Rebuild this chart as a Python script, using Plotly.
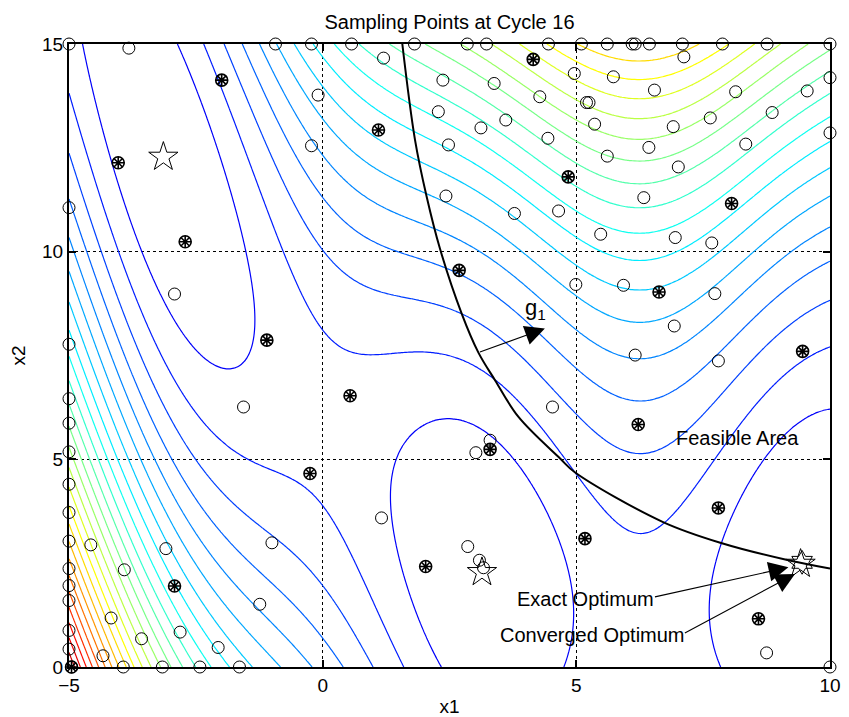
import numpy as np
import plotly.graph_objects as go

# ---------------- data ----------------
# open-circle sampling points
circ_x1 = [-5.0, -0.93, -0.22, 0.57, 1.81, 2.85, 3.23, 4.45, 5.10, 5.61, 6.10, 6.16, 6.44, 7.09, 7.88, 8.76, 10.0,
           -3.82, -0.09, -0.22, -5.0, 1.20, 2.37, 3.38, 4.96, 4.28, 2.28, 3.61, 3.12, 4.44, 2.48, 2.43, 3.78, 4.65,
           7.12, 5.73, 6.54, 8.14, 9.55, 10.0, 5.20, 5.25, 5.36, 7.64, 8.86, 6.91, 10.0, 6.43, 8.34, 5.61, 7.01,
           6.33, 5.48, 6.95, 7.67,
           -2.92, -1.56, -5.0, -5.0, -5.0, -5.0, -5.0, -5.0, -5.0, -5.0, -5.0, -5.0, -5.0, -5.0,
           4.53, 4.99, 3.30, 3.02, 5.93, 7.73, 6.93, 6.16, 7.80,
           -4.57, -3.09, -3.91, -4.17, -3.57, -2.81, -2.06, -4.33, -3.93, -3.16, -2.42, -1.64, -1.00, -1.24,
           1.16, 2.86, 3.09, 3.17, 8.75, 10.0, -4.95]
circ_x2 = [15.0, 15.0, 15.0, 15.0, 15.0, 15.0, 15.0, 15.0, 15.0, 15.0, 15.0, 15.0, 15.0, 15.0, 15.0, 15.0, 15.0,
           14.90, 13.77, 12.55, 11.06, 14.66, 14.13, 14.05, 14.29, 13.73, 13.37, 13.17, 12.98, 12.73, 12.57, 11.34, 10.92, 10.98,
           14.69, 14.21, 13.89, 13.85, 13.87, 14.19, 13.59, 13.59, 13.07, 13.22, 13.35, 13.01, 12.86, 12.51, 12.59, 12.30, 12.04,
           11.30, 10.42, 10.34, 10.21,
           8.98, 6.26, 7.77, 6.46, 5.87, 5.18, 4.40, 3.72, 3.03, 2.37, 1.96, 1.60, 0.88, 0.43,
           6.26, 9.21, 5.46, 5.16, 9.19, 8.99, 8.21, 7.51, 7.37,
           2.94, 2.85, 2.34, 1.18, 0.68, 0.84, 0.47, 0.27, 0.0, 0.0, 0.0, 0.0, 2.99, 1.51,
           3.59, 2.90, 2.57, 2.39, 0.34, 0.0, 0.0]

# points marked with an asterisk inside a circle
ast_x1 = [-1.99, -4.03, -2.71, 1.10, 4.15, 4.84, 8.06, 2.69, 6.63, -1.10, 0.54, 3.30, 9.46, 6.22, -0.25,
          -2.92, -4.95, 2.03, 5.17, 7.80, 8.59]
ast_x2 = [14.13, 12.14, 10.24, 12.93, 14.63, 11.80, 11.16, 9.55, 9.03, 7.87, 6.53, 5.24, 7.60, 5.84, 4.66,
          1.95, 0.0, 2.42, 3.09, 3.83, 1.16]

# exact optima (pentagrams) and converged optimum
opt_x1 = [-3.14, 3.14, 9.42]
opt_x2 = [12.28, 2.28, 2.48]
conv_x1 = [9.45]
conv_x2 = [2.52]

# constraint g1 boundary
g1_x1 = [1.57, 1.82, 2.05, 2.31, 2.74, 3.07, 3.40, 3.86, 4.68, 4.97, 6.71, 7.87, 9.18, 10.0]
g1_x2 = [15.0, 12.69, 11.32, 10.08, 8.51, 7.57, 6.90, 6.02, 5.02, 4.69, 3.49, 2.98, 2.57, 2.37]

# objective surface: Branin function on the design space
x1_grid = np.linspace(-5, 10, 301)
x2_grid = np.linspace(0, 15, 301)
X1, X2 = np.meshgrid(x1_grid, x2_grid)
Z = (X2 - 5.1 / (4 * np.pi ** 2) * X1 ** 2 + 5 / np.pi * X1 - 6) ** 2 + 10 * (1 - 1 / (8 * np.pi)) * np.cos(X1) + 10
zmin, zmax = float(Z.min()), float(Z.max())
n_levels = 25
step = (zmax - zmin) / (n_levels + 1)


def jet(t):
    r = np.clip(min(4 * t - 1.5, -4 * t + 4.5), 0, 1)
    g = np.clip(min(4 * t - 0.5, -4 * t + 3.5), 0, 1)
    b = np.clip(min(4 * t + 0.5, -4 * t + 2.5), 0, 1)
    return 'rgb(%d,%d,%d)' % (round(255 * r), round(255 * g), round(255 * b))


# line colours: lowest level bright blue ... highest level dark red
line_scale = [[p, jet(0.12 + 0.81 * p)] for p in np.linspace(0, 1, n_levels)]

FONT = 'Liberation Sans, Arial, Helvetica, sans-serif'

fig = go.Figure()
fig.add_trace(go.Contour(
    x=x1_grid, y=x2_grid, z=Z, colorscale=line_scale,
    contours=dict(coloring='lines', start=zmin + step, end=zmin + n_levels * step + 1e-6, size=step),
    line=dict(width=1.2), showscale=False, hoverinfo='skip'))

fig.add_trace(go.Scatter(x=g1_x1, y=g1_x2, mode='lines', line=dict(color='black', width=2, shape='spline'),
                         showlegend=False))

fig.add_trace(go.Scatter(x=circ_x1, y=circ_x2, mode='markers', cliponaxis=False,
                         marker=dict(symbol='circle-open', size=12, color='black', line=dict(width=1)),
                         showlegend=False))
fig.add_trace(go.Scatter(x=ast_x1, y=ast_x2, mode='markers', cliponaxis=False,
                         marker=dict(symbol='circle-open', size=12, color='black', line=dict(width=1.6)),
                         showlegend=False))
fig.add_trace(go.Scatter(x=ast_x1, y=ast_x2, mode='markers', cliponaxis=False,
                         marker=dict(symbol='asterisk-open', size=10, color='black', line=dict(width=1.6)),
                         showlegend=False))
fig.add_trace(go.Scatter(x=opt_x1, y=opt_x2, mode='markers', cliponaxis=False,
                         marker=dict(symbol='star-open', size=22, color='black', line=dict(width=1)),
                         showlegend=False))
fig.add_trace(go.Scatter(x=conv_x1, y=conv_x2, mode='markers', cliponaxis=False,
                         marker=dict(symbol='hexagram-open', size=18, color='black', line=dict(width=1)),
                         showlegend=False))

ann_font = dict(family=FONT, size=20, color='black')
arrow = dict(xref='x', yref='y', axref='x', ayref='y', text='', showarrow=True,
             arrowhead=2, arrowsize=3.6, arrowwidth=1.1, arrowcolor='black')
annotations = [
    dict(x=4.38, y=8.15, ax=3.07, ay=7.57, **arrow),
    dict(x=4.19, y=8.62, xref='x', yref='y', text='g<sub>1</sub>', showarrow=False,
         font=dict(family=FONT, size=22, color='black')),
    dict(x=8.17, y=5.52, xref='x', yref='y', text='Feasible Area', showarrow=False, font=ann_font),
    dict(x=5.18, y=1.63, xref='x', yref='y', text='Exact Optimum', showarrow=False, font=ann_font),
    dict(x=5.31, y=0.78, xref='x', yref='y', text='Converged Optimum', showarrow=False, font=ann_font),
    dict(x=9.18, y=2.40, ax=6.52, ay=1.68, **arrow),
    dict(x=9.31, y=2.24, ax=7.11, ay=0.80, **arrow),
]

axis_common = dict(showline=True, linecolor='black', linewidth=2, mirror='ticks', ticks='inside',
                   ticklen=7, tickwidth=1.5, tickcolor='black', showgrid=True, gridcolor='black',
                   gridwidth=1, griddash='dot', zeroline=False, automargin=False,
                   tickfont=dict(family=FONT, size=19, color='black'))

# the page has an 8px body margin, so the figure is sized and placed to compensate
fig.update_layout(
    width=841, height=709, paper_bgcolor='white', plot_bgcolor='white',
    margin=dict(l=61, r=19, t=36, b=50),
    title=dict(text='Sampling Points at Cycle 16', x=0.5, xref='paper', xanchor='center',
               y=1 - 13.5 / 709, yanchor='middle', yref='container',
               font=dict(family=FONT, size=20, color='black')),
    xaxis=dict(range=[-5, 10], tickvals=[-5, 0, 5, 10],
               title=dict(text='x1', font=dict(family=FONT, size=19, color='black'), standoff=6),
               **axis_common),
    yaxis=dict(range=[0, 15], tickvals=[0, 5, 10, 15],
               title=dict(text='x2', font=dict(family=FONT, size=19, color='black'), standoff=12),
               **axis_common),
    annotations=annotations, showlegend=False,
)

fig.write_html('out.html')
